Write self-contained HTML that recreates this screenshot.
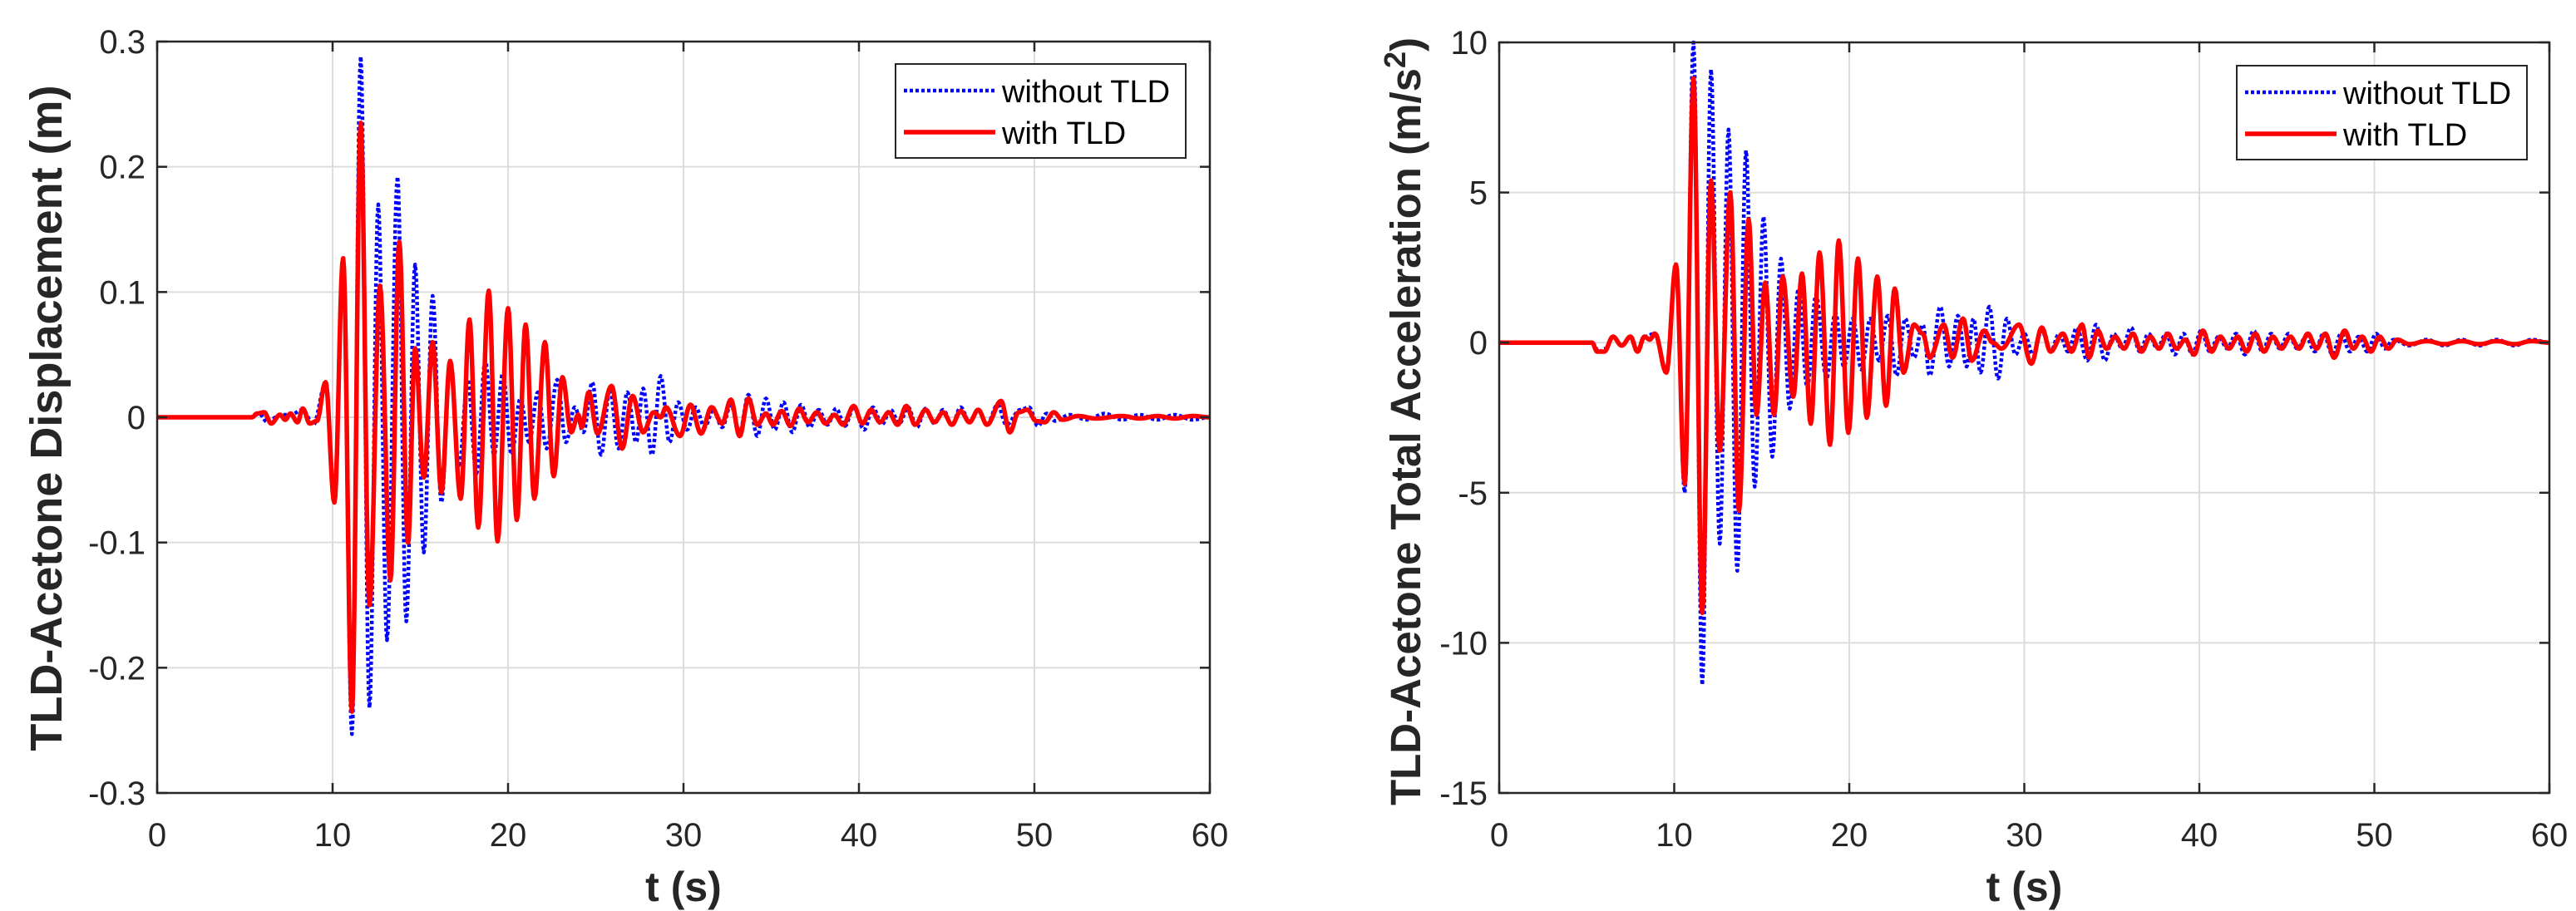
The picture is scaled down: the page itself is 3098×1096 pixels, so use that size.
<!DOCTYPE html>
<html><head><meta charset="utf-8">
<style>
html,body{margin:0;padding:0;background:#fff;}
svg{display:block;font-family:"Liberation Sans",Arial,sans-serif;}
</style></head>
<body>
<svg id="fig" width="3098" height="1096" viewBox="0 0 3098 1096" xmlns="http://www.w3.org/2000/svg"></svg>
<script>
// ---- Left chart data (displacement, m): extrema times & values ----
const dispRedT = [0,5.4,5.7,6.1,6.5,7.0,7.3,7.6,8.0,8.3,8.7,9.1,9.6,10.1,10.6,11.1,11.6,12.1,12.7,13.3,13.8,14.3,14.7,15.2,15.7,16.2,16.7,17.3,17.8,18.3,18.9,19.4,20.0,20.5,21.0,21.5,22.1,22.6,23.1,23.6,24.0,24.2,24.6,25.1,25.9,26.5,27.1,27.7,28.3,28.7,29.0,29.8,30.4,31.0,31.6,32.2,32.7,33.2,33.7,34.2,34.7,35.1,35.6,36.1,36.6,37.1,37.6,38.1,38.6,39.1,39.7,40.2,40.7,41.2,41.7,42.2,42.7,43.2,43.8,44.3,44.8,45.3,45.8,46.3,46.8,47.3,48.1,48.6,49.1,49.6,50.1,50.6,51.1,51.6,52.5,53.5,55,56,57,58,59,60];
const dispRedV = [0,0,0.003,0.004,-0.005,0.002,-0.002,0.003,-0.004,0.007,-0.005,-0.003,0.028,-0.068,0.127,-0.235,0.235,-0.15,0.105,-0.13,0.14,-0.10,0.055,-0.048,0.06,-0.06,0.045,-0.065,0.078,-0.088,0.101,-0.099,0.087,-0.082,0.074,-0.065,0.06,-0.047,0.032,-0.012,0.002,-0.008,0.02,-0.013,0.025,-0.025,0.017,-0.012,0.004,0.0,0.008,-0.015,0.01,-0.013,0.008,-0.005,0.014,-0.015,0.015,-0.006,0.003,-0.006,0.005,-0.007,0.007,-0.004,0.004,-0.005,0.002,-0.006,0.009,-0.005,0.006,-0.004,0.004,-0.006,0.009,-0.006,0.006,-0.004,0.004,-0.006,0.005,-0.004,0.006,-0.006,0.013,-0.012,0.004,0.006,-0.003,-0.004,0.004,-0.002,0.001,-0.001,0.001,-0.001,0.001,-0.001,0.001,0];
const dispBlueT = [0,5.4,5.8,6.3,7.0,7.6,8.3,8.9,9.6,10.1,10.6,11.1,11.6,12.1,12.6,13.1,13.7,14.2,14.7,15.2,15.7,16.2,16.7,17.2,17.7,18.2,18.7,19.2,19.7,20.2,20.7,21.2,21.7,22.2,22.8,23.3,23.8,24.3,24.8,25.3,25.8,26.3,26.8,27.3,27.7,28.2,28.7,29.2,29.7,30.2,30.7,31.2,31.7,32.2,32.7,33.2,33.7,34.2,34.7,35.2,35.7,36.2,36.7,37.2,37.7,38.2,38.7,39.2,39.7,40.3,40.8,41.3,41.8,42.3,42.8,43.3,43.8,44.3,44.8,45.3,45.8,46.3,46.8,47.3,47.9,48.4,49.2,49.7,50.2,50.7,51.2,52,53,54,55,56,57,58,59,60];
const dispBlueV = [0,0,0.003,-0.004,0.002,0.002,0.006,-0.006,0.027,-0.06,0.127,-0.253,0.288,-0.232,0.17,-0.178,0.192,-0.163,0.122,-0.108,0.097,-0.068,0.045,-0.04,0.03,-0.045,0.045,-0.03,0.035,-0.03,0.015,-0.02,0.02,-0.025,0.03,-0.02,0.008,-0.012,0.028,-0.03,0.022,-0.025,0.02,-0.02,0.023,-0.03,0.033,-0.02,0.012,-0.01,0.008,-0.008,0.006,-0.008,0.01,-0.012,0.018,-0.015,0.015,-0.01,0.012,-0.012,0.01,-0.008,0.006,-0.006,0.007,-0.007,0.008,-0.01,0.008,-0.006,0.006,-0.005,0.008,-0.008,0.007,-0.005,0.006,-0.006,0.008,-0.004,0.006,-0.006,0.01,-0.006,0.006,0.008,-0.007,0.003,-0.003,0.002,-0.002,0.003,-0.002,0.002,-0.002,0.002,-0.002,0];
const dispYTicks = [-0.3,-0.2,-0.1,0,0.1,0.2,0.3];
const dispYLabels = ["-0.3","-0.2","-0.1","0","0.1","0.2","0.3"];

// ---- Right chart data (total acceleration, m/s^2) ----
const accRedT = [0,5.3,5.6,6.0,6.5,7.0,7.5,7.9,8.3,8.6,8.9,9.55,10.1,10.6,11.1,11.6,12.1,12.6,13.2,13.7,14.25,14.7,15.2,15.7,16.2,16.8,17.3,17.8,18.3,18.9,19.4,19.95,20.5,21.0,21.6,22.1,22.6,23.1,23.7,24.2,24.6,25.4,25.9,26.5,27.0,27.7,28.2,28.7,29.7,30.4,31.0,31.5,32.2,32.7,33.3,33.7,34.2,34.7,35.2,35.7,36.2,36.7,37.2,37.7,38.2,38.7,39.2,39.7,40.2,40.7,41.2,41.7,42.2,42.7,43.2,43.7,44.2,44.7,45.2,45.7,46.2,46.7,47.2,47.7,48.3,48.8,49.3,49.8,50.3,50.8,51.3,52,53,54,55,56,57,58,59,60];
const accRedV = [0,0,-0.3,-0.3,0.2,-0.1,0.2,-0.3,0.2,0.1,0.3,-1.0,2.6,-4.7,8.8,-9.0,5.4,-3.6,5.0,-5.6,4.1,-2.4,2.0,-2.4,2.2,-1.8,2.3,-2.7,3.0,-3.4,3.4,-3.0,2.8,-2.5,2.2,-2.1,1.8,-1.0,0.6,0.3,-0.5,0.6,-0.5,0.8,-0.6,0.4,0.0,-0.2,0.6,-0.7,0.5,-0.3,0.3,-0.3,0.6,-0.5,0.4,-0.2,0.2,-0.2,0.3,-0.3,0.2,-0.2,0.3,-0.2,0.1,-0.4,0.4,-0.3,0.2,-0.2,0.2,-0.3,0.3,-0.3,0.2,-0.2,0.2,-0.2,0.3,-0.2,0.3,-0.5,0.4,-0.2,0.2,-0.3,0.2,-0.2,0.1,-0.05,0.05,-0.05,0.05,-0.05,0.05,-0.05,0.05,0];
const accBlueT = [0,5.3,5.7,6.1,6.5,7.0,7.5,7.9,8.3,8.9,9.55,10.1,10.6,11.1,11.6,12.1,12.6,13.1,13.6,14.1,14.6,15.1,15.6,16.1,16.6,17.1,17.6,18.1,18.7,19.2,19.7,20.2,20.7,21.2,21.7,22.2,22.7,23.2,23.7,24.2,24.6,25.2,25.7,26.2,26.7,27.1,27.5,28.0,28.5,29.0,29.5,30.0,30.5,31.0,31.5,32.0,32.5,33.0,33.6,34.1,34.6,35.1,35.6,36.1,36.6,37.1,37.6,38.1,38.6,39.1,39.6,40.1,40.6,41.1,41.6,42.1,42.6,43.1,43.6,44.1,44.6,45.1,45.6,46.1,46.6,47.1,47.6,48.1,48.6,49.1,49.6,50.1,50.6,51.1,52,53,54,55,56,57,58,59,60];
const accBlueV = [0,0,-0.3,-0.2,0.2,-0.1,0.2,-0.3,0.2,0.3,-1.0,2.6,-5.0,10.0,-11.4,9.1,-6.7,7.1,-7.6,6.4,-4.8,4.2,-3.8,2.8,-2.2,1.8,-1.5,1.6,-1.2,1.0,-0.8,0.8,-0.9,0.8,-0.6,0.9,-1.1,0.8,-0.5,0.6,-1.1,1.2,-0.8,0.9,-0.8,0.8,-1.0,1.2,-1.2,0.8,-0.4,0.3,-0.4,0.4,-0.3,0.3,-0.3,0.5,-0.6,0.6,-0.6,0.3,-0.2,0.5,-0.3,0.3,-0.2,0.3,-0.4,0.3,-0.4,0.4,-0.3,0.2,-0.2,0.3,-0.4,0.4,-0.3,0.3,-0.2,0.3,-0.2,0.2,-0.3,0.3,-0.4,0.3,-0.3,0.2,-0.3,0.3,-0.2,0.1,-0.1,0.1,-0.1,0.1,-0.1,0.1,-0.1,0.1,0];
const accYTicks = [-15,-10,-5,0,5,10];
const accYLabels = ["-15","-10","-5","0","5","10"];

const xTicks = [0,10,20,30,40,50,60];
const xLabels = ["0","10","20","30","40","50","60"];

const NS = "http://www.w3.org/2000/svg";
const svg = document.getElementById('fig');
function mk(tag, attrs, parent){
  const e = document.createElementNS(NS, tag);
  for (const k in attrs) e.setAttribute(k, attrs[k]);
  (parent||svg).appendChild(e);
  return e;
}
function curve(T, V, sx, sy){
  let d = "M" + sx(T[0]).toFixed(1) + "," + sy(V[0]).toFixed(1);
  for (let i = 1; i < T.length; i++){
    const n = 10;
    for (let k = 1; k <= n; k++){
      const f = k/n, w = (1 - Math.cos(Math.PI*f))/2;
      const t = T[i-1] + (T[i]-T[i-1])*f;
      const v = V[i-1] + (V[i]-V[i-1])*w;
      d += "L" + sx(t).toFixed(1) + "," + sy(v).toFixed(1);
    }
  }
  return d;
}

function chart(cfg){
  const g = mk('g', {});
  
  
  const {L,R,T,B,ymin,ymax} = cfg;
  const sx = t => L + (t/60)*(R-L);
  const sy = v => B - (v-ymin)/(ymax-ymin)*(B-T);
  mk('rect',{x:L,y:T,width:R-L,height:B-T,fill:'#fff'},g);
  xTicks.forEach((t,i)=>{
    if (i>0 && i<xTicks.length-1){
      const l = mk('line',{x1:sx(t),x2:sx(t),y1:T,y2:B,stroke:'#dcdcdc','stroke-width':2},g);
      
      
    }
  });
  cfg.yt.forEach((v,i)=>{
    if (i>0 && i<cfg.yt.length-1){
      const l = mk('line',{x1:L,x2:R,y1:sy(v),y2:sy(v),stroke:'#dcdcdc','stroke-width':2},g);
      
      
    }
  });
  const pb = mk('path',{d:curve(cfg.bT,cfg.bV,sx,sy),fill:'none',stroke:'#0000ff','stroke-width':4.5,'stroke-dasharray':'4 3','stroke-linejoin':'round'},g);
  
  
  const pr = mk('path',{d:curve(cfg.rT,cfg.rV,sx,sy),fill:'none',stroke:'#ff0000','stroke-width':5.5,'stroke-linejoin':'round'},g);
  
  
  const fr = mk('rect',{x:L,y:T,width:R-L,height:B-T,fill:'none',stroke:'#262626','stroke-width':2.5},g);
  
  
  xTicks.forEach((t,i)=>{
    mk('line',{x1:sx(t),x2:sx(t),y1:B,y2:B-12,stroke:'#262626','stroke-width':2.5},g);
    mk('line',{x1:sx(t),x2:sx(t),y1:T,y2:T+12,stroke:'#262626','stroke-width':2.5},g);
    const tx = mk('text',{x:sx(t),y:B+64,'text-anchor':'middle','font-size':40,fill:'#262626'},g);
    tx.textContent = xLabels[i];
    
    
  });
  cfg.yt.forEach((v,i)=>{
    mk('line',{x1:L,x2:L+12,y1:sy(v),y2:sy(v),stroke:'#262626','stroke-width':2.5},g);
    mk('line',{x1:R,x2:R-12,y1:sy(v),y2:sy(v),stroke:'#262626','stroke-width':2.5},g);
    const ty = mk('text',{x:L-14,y:sy(v)+14,'text-anchor':'end','font-size':40,fill:'#262626'},g);
    ty.textContent = cfg.yl[i];
    
    
  });
  const xt = mk('text',{x:(L+R)/2,y:1084,'text-anchor':'middle','font-size':50,'font-weight':'bold',fill:'#262626'},g);
  xt.textContent = 't (s)';
  
  
  const yt = mk('text',{x:0,y:0,'text-anchor':'middle','font-size':cfg.yfs,'font-weight':'bold',fill:'#262626',transform:`translate(${cfg.ylx},${cfg.yly}) rotate(-90)`},g);
  yt.innerHTML = cfg.ytitle;
  
  
  const lg = mk('g',{},g);
  
  
  const lx = cfg.lgx, ly = cfg.lgy;
  mk('rect',{x:lx,y:ly,width:349,height:113,fill:'#fff',stroke:'#262626','stroke-width':2},lg);
  const e1 = mk('line',{x1:lx+10,x2:lx+120,y1:ly+32,y2:ly+32,stroke:'#0000ff','stroke-width':4.5,'stroke-dasharray':'4 3'},lg);
  
  
  const t1 = mk('text',{x:lx+128,y:ly+46,'font-size':38,fill:'#000'},lg);
  t1.textContent = 'without TLD';
  
  
  const e2 = mk('line',{x1:lx+10,x2:lx+120,y1:ly+82,y2:ly+82,stroke:'#ff0000','stroke-width':5.5},lg);
  
  
  const t2 = mk('text',{x:lx+128,y:ly+96,'font-size':38,fill:'#000'},lg);
  t2.textContent = 'with TLD';
  
  
}

chart({name:'displacement-chart',L:189,R:1455,T:50,B:954,ymin:-0.3,ymax:0.3,
  yt:dispYTicks,yl:dispYLabels,rT:dispRedT,rV:dispRedV,bT:dispBlueT,bV:dispBlueV,
  ylx:74,yly:503,yfs:54,ytitle:'TLD-Acetone Displacement (m)',lgx:1077,lgy:77});
chart({name:'acceleration-chart',L:1803,R:3066,T:51,B:954,ymin:-15,ymax:10,
  yt:accYTicks,yl:accYLabels,rT:accRedT,rV:accRedV,bT:accBlueT,bV:accBlueV,
  ylx:1708,yly:507,yfs:51,ytitle:'TLD-Acetone Total Acceleration (m/s<tspan dy="-18" font-size="36">2</tspan><tspan dy="18">)</tspan>',lgx:2690,lgy:79});
</script>
</body></html>
